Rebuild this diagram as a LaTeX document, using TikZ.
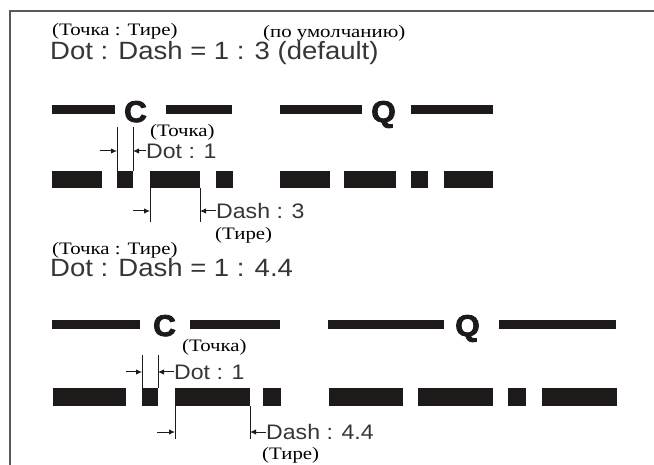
\documentclass[tikz,border=0pt]{standalone}
\usepackage{fontspec}
\setmainfont{Liberation Serif}
\newfontfamily\ruserif[FakeStretch=1.19]{Liberation Serif}
\newfontfamily\headsans[FakeStretch=1.1,WordSpace=1.5]{Liberation Sans}
\newfontfamily\labelsans[FakeStretch=1.1]{Liberation Sans}
\newfontfamily\codesans[FakeStretch=1.05,FakeBold=3]{Liberation Sans}
\usetikzlibrary{arrows.meta}
\definecolor{InkGray}{HTML}{363636}
\definecolor{BarBlack}{HTML}{1E1A1A}
\definecolor{FrameGray}{HTML}{5A5A5A}
\tikzset{
  ru/.style={inner sep=0pt, anchor=west, font=\ruserif\fontsize{17.5}{18}\selectfont},
  head/.style={inner sep=0pt, anchor=base west, text=InkGray, font=\headsans\fontsize{25}{26}\selectfont},
  dimlabel/.style={inner sep=0pt, anchor=west, text=InkGray, font=\labelsans\fontsize{21}{22}\selectfont},
  letter/.style={inner sep=0pt, anchor=base, text=BarBlack, font=\codesans\bfseries\fontsize{30}{30}\selectfont},
  bar/.style={fill=BarBlack, inner sep=0pt, outer sep=0pt, minimum height=9},
  sig/.style={fill=BarBlack, inner sep=0pt, outer sep=0pt},
  extline/.style={line width=0.9pt, BarBlack},
  dimarrow/.style={-{Latex[length=6pt,width=5.5pt]}, line width=1pt, BarBlack}
}
\begin{document}
\begin{tikzpicture}[x=1pt, y=-1pt]
  \useasboundingbox (0,0) rectangle (654,465);
  \fill[white] (0,0) rectangle (654,465);
  \draw[FrameGray, line width=2] (654,11) -- (10,11) -- (10,465);

  % 1 : 3
  \node[ru] (t1a) at (52,31) {(Точка : Тире)};
  \node[ru] (t1b) at (263,33) {(по умолчанию)};
  \node[head] (h1) at (50,60) {Dot : Dash = 1 : 3 (default)};

  \foreach \a/\b [count=\i] in {52/115,166/232,280/362,411/493}
    \node[bar, minimum width={(\b-\a)*1pt}] (c1-\i) at ({(\a+\b)/2},110) {};
  \node[letter] (c1C) at (135.5,122) {C};
  \node[letter] (c1Q) at (383.5,122) {Q};

  \foreach \a/\b [count=\i] in {52/102,117/133,150/200,216/233,280/330,344/396,411/428,444/493}
    \node[sig, minimum width={(\b-\a)*1pt}, minimum height=17] (p\i) at ({(\a+\b)/2},180) {};

  \node[ru] (p2ru) at (150,132) {(Точка)};
  \draw[extline] (p2.north west) -- ++(0,-44);
  \draw[extline] (p2.north east) -- ++(0,-44);
  \coordinate (p2in) at (100,151);
  \draw[dimarrow] (p2in) -- (p2in -| p2.west);
  \node[dimlabel] (p2dim) at (146,151) {Dot : 1};
  \draw[dimarrow] (p2dim.west) -- (p2dim.west -| p2.east);

  \draw[extline] (p3.south west) -- ++(0,34);
  \draw[extline] (p3.south east) -- ++(0,34);
  \coordinate (p3in) at (133,211);
  \draw[dimarrow] (p3in) -- (p3in -| p3.west);
  \node[dimlabel] (p3dim) at (216,211) {Dash : 3};
  \draw[dimarrow] (p3dim.west) -- (p3dim.west -| p3.east);
  \node[ru] (p3ru) at (215,235) {(Тире)};

  % 1 : 4.4
  \node[ru] (t2a) at (52,250) {(Точка : Тире)};
  \node[head] (h2) at (50,277) {Dot : Dash = 1 : 4.4};

  \foreach \a/\b [count=\i] in {52/140,190/280,328/444,499/616}
    \node[bar, minimum width={(\b-\a)*1pt}] (c2-\i) at ({(\a+\b)/2},325) {};
  \node[letter] (c2C) at (164.5,336) {C};
  \node[letter] (c2Q) at (467.5,336) {Q};

  \foreach \a/\b [count=\i] in {53/126,142/158,175/250,263/281,329/403,418/493,508/526,542/617}
    \node[sig, minimum width={(\b-\a)*1pt}, minimum height=18] (q\i) at ({(\a+\b)/2},397) {};

  \node[ru] (q2ru) at (182,347) {(Точка)};
  \draw[extline] (q2.north west) -- ++(0,-33);
  \draw[extline] (q2.north east) -- ++(0,-33);
  \coordinate (q2in) at (126,372);
  \draw[dimarrow] (q2in) -- (q2in -| q2.west);
  \node[dimlabel] (q2dim) at (174,372) {Dot : 1};
  \draw[dimarrow] (q2dim.west) -- (q2dim.west -| q2.east);

  \draw[extline] (q3.south west) -- ++(0,33);
  \draw[extline] (q3.south east) -- ++(0,33);
  \coordinate (q3in) at (157,432);
  \draw[dimarrow] (q3in) -- (q3in -| q3.west);
  \node[dimlabel] (q3dim) at (266,432) {Dash : 4.4};
  \draw[dimarrow] (q3dim.west) -- (q3dim.west -| q3.east);
  \node[ru] (q3ru) at (262,455) {(Тире)};
\end{tikzpicture}
\end{document}
